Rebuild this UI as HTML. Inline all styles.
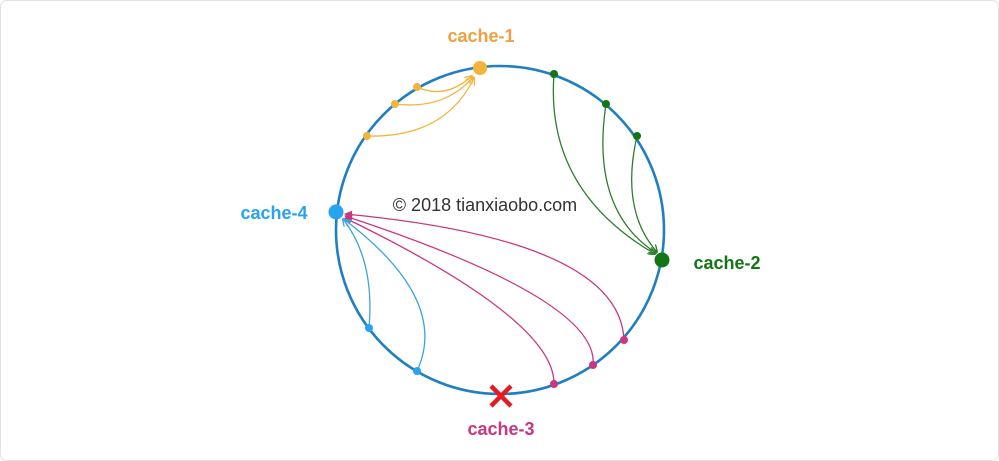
<!DOCTYPE html>
<html><head><style>
html,body{margin:0;padding:0;background:#fff;}
svg{display:block}
</style></head><body>
<svg width="999" height="461" viewBox="0 0 999 461" xmlns="http://www.w3.org/2000/svg" font-family="Liberation Sans, Arial, sans-serif">
<defs>
<marker id="ay" markerWidth="8" markerHeight="8" refX="7" refY="4" orient="auto" markerUnits="userSpaceOnUse"><path d="M0,0 L8,4 L0,8" fill="none" stroke="#f2b43a" stroke-width="1.3"/></marker>
<marker id="ag" markerWidth="8" markerHeight="8" refX="7" refY="4" orient="auto" markerUnits="userSpaceOnUse"><path d="M0,0 L8,4 L0,8" fill="none" stroke="#2e7d2e" stroke-width="1.3"/></marker>
<marker id="am" markerWidth="8" markerHeight="8" refX="7" refY="4" orient="auto" markerUnits="userSpaceOnUse"><path d="M0,0 L8,4 L0,8 z" fill="#c8377f"/></marker>
<marker id="ab" markerWidth="8" markerHeight="8" refX="7" refY="4" orient="auto" markerUnits="userSpaceOnUse"><path d="M0,0 L8,4 L0,8" fill="none" stroke="#3aa4e0" stroke-width="1.3"/></marker>
</defs>
<rect x="0.5" y="0.5" width="998" height="460" rx="6" fill="#fff" stroke="#e2e2e2"/>
<circle cx="500" cy="230" r="164" fill="none" stroke="#1f7fc0" stroke-width="2.6"/>
<g fill="none" stroke="#f2b43a" stroke-width="1.3">
<path d="M417,87 Q445,100 472,76" marker-end="url(#ay)"/>
<path d="M395,104 Q445,110 473,77" marker-end="url(#ay)"/>
<path d="M367,136 Q445,138 474,78" marker-end="url(#ay)"/>
</g>
<g fill="none" stroke="#2e7d2e" stroke-width="1.3">
<path d="M554,74 Q545,190 655,254" marker-end="url(#ag)"/>
<path d="M606,104 Q590,210 656,253" marker-end="url(#ag)"/>
<path d="M637,136 Q620,210 657,252" marker-end="url(#ag)"/>
</g>
<g fill="none" stroke="#c8377f" stroke-width="1.3">
<path d="M624,340 Q620,240 345,214" marker-end="url(#am)"/>
<path d="M593,365 Q600,300 345,216" marker-end="url(#am)"/>
<path d="M554,384 Q555,320 345,218" marker-end="url(#am)"/>
</g>
<g fill="none" stroke="#3aa4e0" stroke-width="1.3">
<path d="M369,328 Q375,260 343,219" marker-end="url(#ab)"/>
<path d="M417,371 Q450,300 345,220" marker-end="url(#ab)"/>
</g>
<g fill="#f2b43a"><circle cx="480" cy="68" r="7"/><circle cx="417" cy="87" r="4"/><circle cx="395" cy="104" r="4"/><circle cx="367" cy="136" r="4"/></g>
<g fill="#137513"><circle cx="662" cy="260" r="7.5"/><circle cx="554" cy="74" r="4"/><circle cx="606" cy="104" r="4"/><circle cx="637" cy="136" r="4"/></g>
<g fill="#c8377f"><circle cx="624" cy="340" r="4"/><circle cx="593" cy="365" r="4"/><circle cx="554" cy="384" r="4"/></g>
<g fill="#28a3f0"><circle cx="336" cy="212" r="7.5"/><circle cx="369" cy="328" r="4"/><circle cx="417" cy="371" r="4"/></g>
<g stroke="#e51b24" stroke-width="4.5" stroke-linecap="butt"><line x1="491" y1="386" x2="511" y2="406"/><line x1="511" y1="386" x2="491" y2="406"/></g>
<g font-weight="bold" font-size="18" text-anchor="middle">
<text x="481" y="42" fill="#f0a040">cache-1</text>
<text x="274" y="219" fill="#28a3f0">cache-4</text>
<text x="727" y="269" fill="#137513">cache-2</text>
<text x="501" y="435" fill="#c8377f">cache-3</text>
</g>
<text x="485" y="211" font-size="18" fill="#333" text-anchor="middle">© 2018 tianxiaobo.com</text>
</svg>
</body></html>
